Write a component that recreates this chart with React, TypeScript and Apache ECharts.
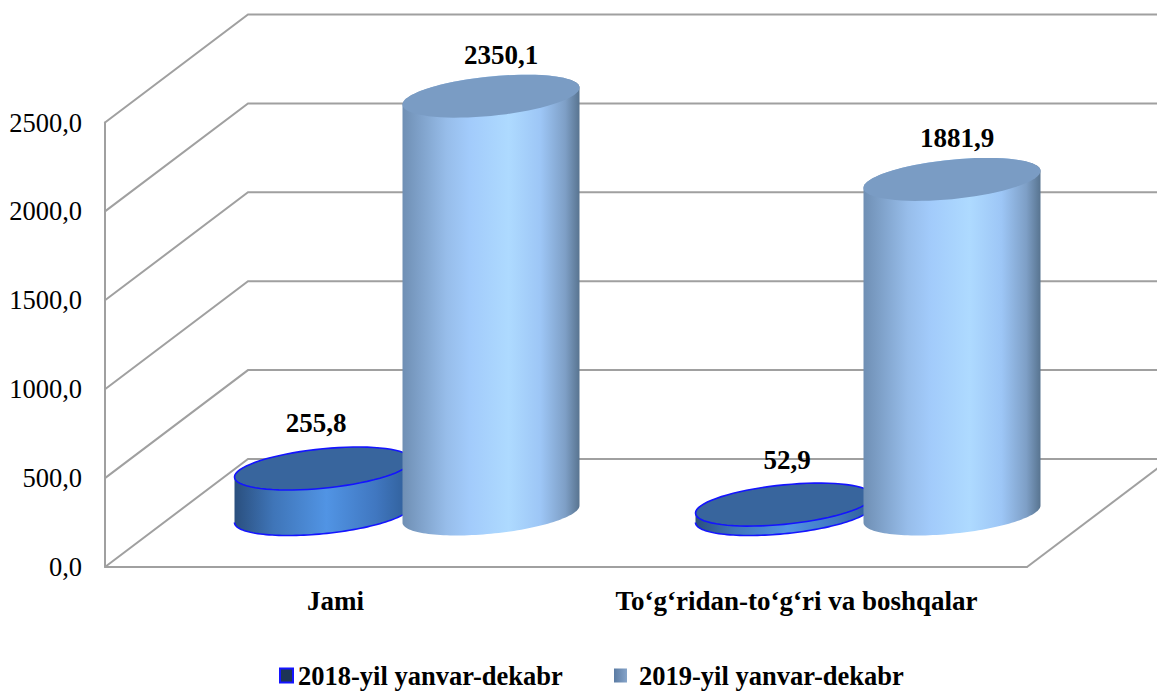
import React, { useEffect, useRef } from "react";
import * as echarts from "echarts";

const categories = ["Jami", "To‘g‘ridan-to‘g‘ri va boshqalar"];
const series2018Name = "2018-yil yanvar-dekabr";
const series2019Name = "2019-yil yanvar-dekabr";
const values2018 = [255.8, 52.9];
const values2019 = [2350.1, 1881.9];
const axisTicks = [0, 500, 1000, 1500, 2000, 2500];

const SERIF = '"Liberation Serif", "Times New Roman", serif';
const DEPTH_X = 143;
const DEPTH_Y = 108;
const CYL_LIFT = 53;
const RADIUS_RATIO = 88.5 / 461;
const OFFSET_RATIO = 84 / 461;
const SHEAR = 0.096;
const MINOR = 19.75;
const WALL = "#a0a0a0";

const fmt = (v: number) => v.toFixed(1).replace(".", ",");
const grad = (stops: [number, string][]) =>
  new echarts.graphic.LinearGradient(0, 0, 1, 0, stops.map(([offset, color]) => ({ offset, color })));

const side2018 = () =>
  grad([[0, "#2a4f7e"], [0.22, "#3f75b8"], [0.52, "#5194e4"], [0.8, "#4077c0"], [1, "#2f5d96"]]);
const side2019 = () =>
  grad([[0, "#6f8fb4"], [0.25, "#97bdea"], [0.38, "#a2cbfb"], [0.6, "#aedaff"], [0.78, "#9dc6f6"], [0.92, "#7e9fc6"], [1, "#587490"]]);

const cylinder = (
  dir: number,
  side: () => any,
  top: string,
  stroke: string | null,
  labelNudge: number[][],
) => (params: any, api: any) => {
  const cat = api.value(0);
  const val = api.value(1);
  const band = api.size([1, 0])[0];
  const a = band * RADIUS_RATIO;
  const base = api.coord([cat, 0]);
  const head = api.coord([cat, val]);
  const cx = base[0] + DEPTH_X / 2 + dir * band * OFFSET_RATIO;
  const by = base[1] - CYL_LIFT;
  const ty = head[1] - CYL_LIFT;
  const pt = (t: number, cy: number) => [
    cx + a * Math.cos(t),
    cy - SHEAR * a * Math.cos(t) + MINOR * Math.sin(t),
  ];
  const N = 72;
  const steps = Array.from({ length: N + 1 }, (_, i) => i / N);
  const front = steps.map((s) => pt(s * Math.PI, by));
  const back = steps.map((s) => pt(Math.PI + s * Math.PI, ty));
  const rim = steps.map((s) => pt(s * Math.PI * 2, ty));
  const nudge = labelNudge[params.dataIndex];
  const children: any[] = [
    {
      type: "polygon",
      shape: { points: [...front, ...back] },
      style: { fill: side(), stroke: "none" },
    },
  ];
  if (stroke) {
    children.push({
      type: "polyline",
      shape: { points: front },
      style: { fill: "none", stroke, lineWidth: 1.6 },
    });
  }
  children.push({
    type: "polygon",
    shape: { points: rim },
    style: { fill: top, stroke: stroke || "none", lineWidth: stroke ? 1.6 : 0 },
  });
  children.push({
    type: "text",
    z2: 100,
    style: {
      text: fmt(val),
      x: cx + nudge[0],
      y: ty + nudge[1],
      fill: "#000",
      font: `bold 27px ${SERIF}`,
      align: "center",
      verticalAlign: "middle",
    },
  });
  return { type: "group", children };
};

const wallItem = (params: any, api: any) => {
  const p = api.coord([0, api.value(1)]);
  const cs = params.coordSys;
  const x0 = cs.x;
  const x1 = cs.x + DEPTH_X;
  const y1 = p[1] - DEPTH_Y;
  const end = cs.x + cs.width + DEPTH_X;
  const style = { fill: "none", stroke: WALL, lineWidth: 2 };
  const children: any[] = [
    { type: "polyline", shape: { points: [[x0, p[1]], [x1, y1], [end, y1]] }, style },
  ];
  if (api.value(1) === 0) {
    children.push({
      type: "polyline",
      shape: { points: [[cs.x + cs.width, p[1]], [end, y1]] },
      style,
    });
  }
  return { type: "group", children };
};

const legendBase = {
  top: 657,
  itemWidth: 13,
  itemHeight: 14,
  icon: "rect",
  selectedMode: false,
};
const legendText = { fontFamily: SERIF, fontWeight: "bold", fontSize: 26.5, color: "#000" };

export default function App() {
  const ref = useRef<HTMLDivElement>(null);
  useEffect(() => {
    const chart = echarts.init(ref.current!, null, { renderer: "svg" });
    chart.setOption({
      animation: false,
      backgroundColor: "#fff",
      grid: { left: 105, top: 122.5, width: 922, height: 444.5 },
      legend: [
        {
          ...legendBase,
          data: [series2018Name],
          left: 274,
          textStyle: { ...legendText, padding: [0, 0, 0, 0] },
        },
        {
          ...legendBase,
          data: [series2019Name],
          left: 609,
          textStyle: { ...legendText, padding: [0, 0, 0, 7] },
        },
      ],
      xAxis: {
        type: "category",
        data: categories,
        axisLine: { show: true, lineStyle: { color: WALL, width: 2 } },
        axisTick: { show: false },
        axisLabel: {
          interval: 0,
          margin: 20,
          fontFamily: SERIF,
          fontWeight: "bold",
          fontSize: 27,
          color: "#000",
        },
      },
      yAxis: {
        type: "value",
        min: 0,
        max: 2500,
        interval: 500,
        splitLine: { show: false },
        axisTick: { show: false },
        axisLine: { show: true, lineStyle: { color: WALL, width: 2 } },
        axisLabel: {
          margin: 23,
          fontFamily: SERIF,
          fontSize: 26.5,
          color: "#000",
          padding: [4, 0, 0, 0],
          formatter: (v: number) => fmt(v),
        },
      },
      series: [
        {
          type: "custom",
          name: "wall",
          silent: true,
          z: 1,
          data: axisTicks.map((t) => [0, t]),
          encode: { x: 0, y: 1 },
          renderItem: wallItem,
        },
        {
          type: "custom",
          name: series2018Name,
          z: 2,
          itemStyle: { color: "#1d3557", borderColor: "#1414ff", borderWidth: 1.5 },
          data: values2018.map((v, i) => [i, v]),
          encode: { x: 0, y: 1 },
          renderItem: cylinder(-1, side2018, "#38659d", "#1414ff", [[-7, -46], [3, -45]]),
        },
        {
          type: "custom",
          name: series2019Name,
          z: 3,
          itemStyle: {
            color: new echarts.graphic.LinearGradient(0, 0, 1, 0, [
              { offset: 0, color: "#5b7ba3" },
              { offset: 1, color: "#86a4c9" },
            ]),
          },
          data: values2019.map((v, i) => [i, v]),
          encode: { x: 0, y: 1 },
          renderItem: cylinder(1, side2019, "#7a9cc4", null, [[10, -41], [5, -41]]),
        },
      ],
    });
    return () => chart.dispose();
  }, []);
  return (
    <div
      ref={ref}
      style={{ position: "fixed", left: 0, top: 0, width: 1157, height: 691 }}
    />
  );
}
